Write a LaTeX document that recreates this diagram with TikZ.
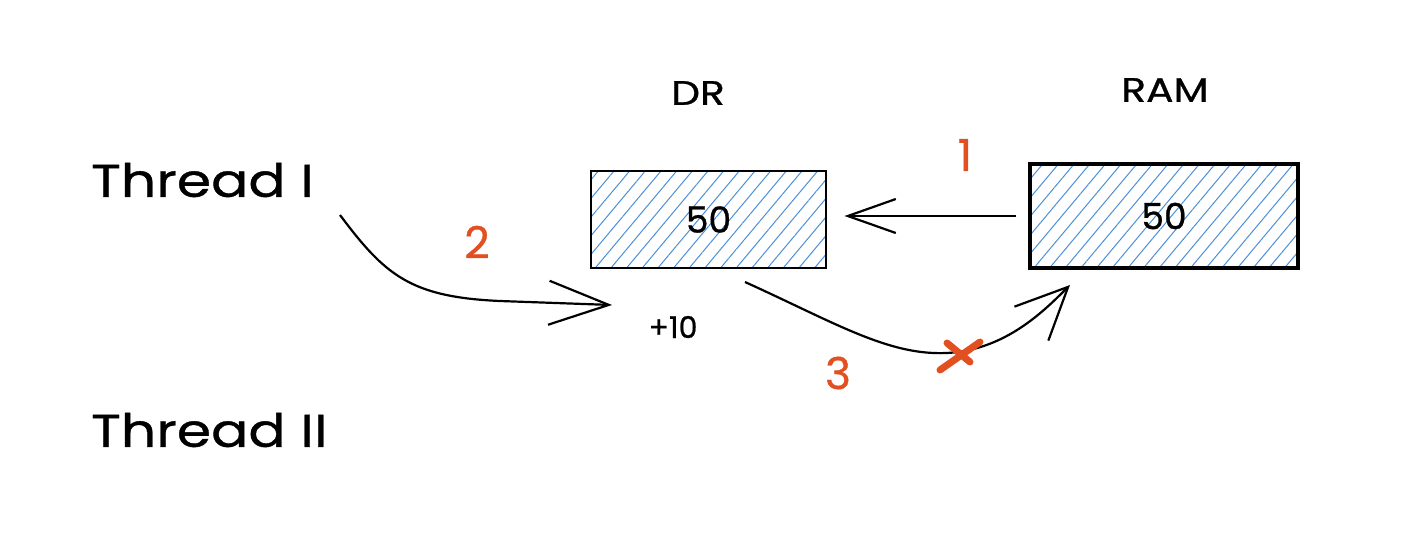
\documentclass[tikz,border=0pt]{standalone}
\usepackage{fontspec}
\setmainfont{Poppins}[FakeBold=0.8]
\newfontfamily\widehand{Poppins}[FakeStretch=1.2, FakeBold=0.8]
\usetikzlibrary{arrows.meta,patterns.meta}

\definecolor{hatchblue}{RGB}{74,144,217}
\definecolor{stepred}{RGB}{226,80,34}

\begin{document}
\begin{tikzpicture}[
    x=0.5pt, y=-0.5pt,
    label text/.style={font=\widehand\fontsize{23}{26}\selectfont, anchor=west},
    head text/.style={font=\widehand\fontsize{17}{20}\selectfont},
    value text/.style={font=\fontsize{18}{21}\selectfont},
    step num/.style={font=\fontsize{22}{25}\selectfont, text=stepred},
    cell/.style={draw, line width=1.2pt, inner sep=0pt,
        pattern={Lines[angle=50, distance=6pt, line width=0.5pt]},
        pattern color=hatchblue},
    link/.style={draw, line width=1.1pt}
]
\useasboundingbox (0,0) rectangle (1410,548);

% threads
\node[label text] (threadI)  at (84,180) {Thread I};
\node[label text] (threadII) at (84,430) {Thread II};

% storage cells
\node[cell, minimum width=117.5pt, minimum height=48.5pt] (dr)  at (708.5,219.5) {};
\node[value text] (drval) at (dr.center) {50};
\node[cell, line width=1.6pt, minimum width=134pt, minimum height=52pt] (ram) at (1164,216) {};
\node[value text] (ramval) at (ram.center) {50};
\node[head text] (drlabel)  at (698,93) {DR};
\node[head text] (ramlabel) at (1165,90) {RAM};

\node[font=\fontsize{15}{18}\selectfont] (plus) at (673,327) {+10};

% connector ends
\coordinate (a2start) at (340,215);
\coordinate (a2end)   at (612,305);
\coordinate (a3start) at (745,282);
\coordinate (a3mid)   at (958,352);
\coordinate (a3end)   at (1070,285);

% step 1: load
\draw[link, -{Straight Barb[length=24pt, width=17pt]}, shorten <=6pt, shorten >=9pt]
    (ram.west) -- (dr.east |- ram.west);
\node[step num] (s1) at (965,155) {1};

% step 2: add
\draw[link, -{Straight Barb[length=30pt, width=22pt]}]
    (a2start) .. controls (385,275) and (410,297) .. (500,301) -- (a2end);
\node[step num] (s2) at (477,242) {2};

% step 3: store (fails)
\draw[link, -{Straight Barb[length=26pt, width=24pt]}]
    (a3start) .. controls (840,325) and (895,360) .. (a3mid)
    .. controls (1010,345) and (1045,310) .. (a3end);
\node[step num] (s3) at (838,373) {3};
\draw[stepred, line width=3.5pt, line cap=round]
    (947,343) -- (970,362) (980,342) -- (940,370);
\end{tikzpicture}
\end{document}
